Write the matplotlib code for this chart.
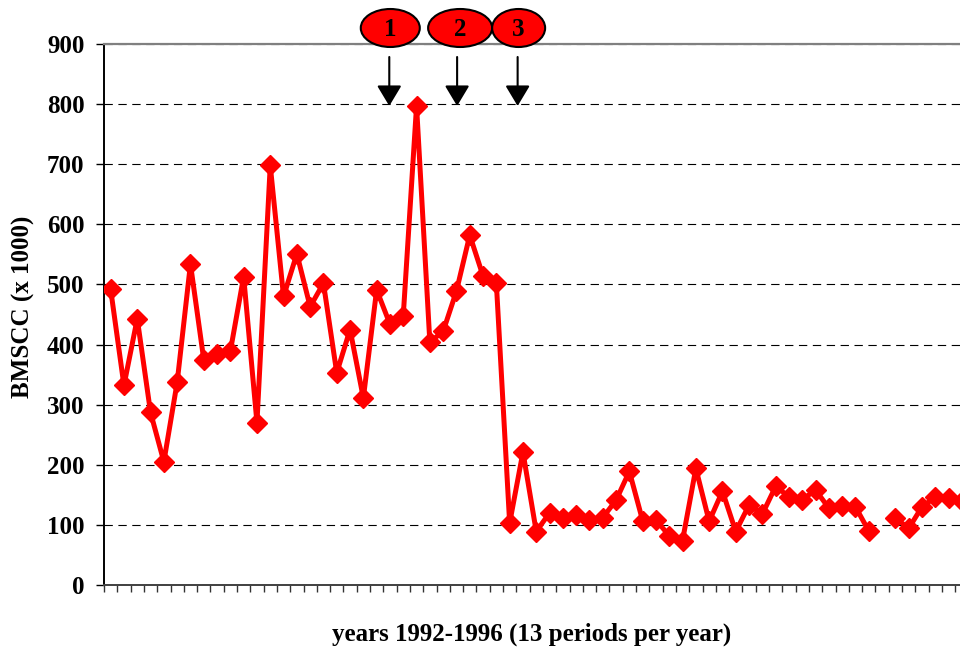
import numpy as np
import matplotlib
matplotlib.use("Agg")
import matplotlib.pyplot as plt
from matplotlib.patches import Ellipse
from matplotlib.transforms import blended_transform_factory

# ---- data ----
bmscc = [492, 332, 443, 287, 205, 337, 534, 375, 384, 389, 513, 270, 698,
         480, 551, 463, 502, 353, 425, 311, 491, 434, 448, 797, 404, 422,
         489, 582, 514, 502, 103, 221, 89, 120, 111, 116, 108, 112, 141,
         189, 107, 108, 82, 74, 194, 106, 156, 89, 133, 118, 164, 147,
         142, 158, 128, 131, 130, 90, np.nan, 112, 94, 130, 146, 145, 140]
periods = list(range(len(bmscc)))
event_labels = ["1", "2", "3"]
event_periods = [20.95, 26.05, 30.6]
yticks = [0, 100, 200, 300, 400, 500, 600, 700, 800, 900]
ylabel = "BMSCC (x 1000)"
xlabel = "years 1992-1996 (13 periods per year)"

W, H = 960, 647
FONT = "Liberation Serif"
fig = plt.figure(figsize=(W / 100, H / 100), dpi=100)
ax = fig.add_axes([104 / W, 62 / H, 864.5 / W, 541 / H])

ax.plot(periods, bmscc, color="#ff0000", lw=3.6, marker="D", ms=10,
        mec="#ff0000", mfc="#ff0000", zorder=3)

ax.set_xlim(-0.5, len(bmscc) - 0.5)
ax.set_ylim(0, 900)
ax.set_yticks(yticks)
ax.set_yticklabels([str(v) for v in yticks], fontfamily=FONT,
                   fontweight="bold", fontsize=18)
ax.set_xticks(np.arange(-0.5, len(bmscc), 1.0))
ax.set_xticklabels([])
ax.tick_params(axis="y", direction="out", length=6, width=1, pad=8,
               color="black")
ax.tick_params(axis="x", direction="out", length=5, width=1, color="#333333")
ax.yaxis.grid(True, color="black", lw=0.8, ls=(0, (7.5, 5)))
ax.set_axisbelow(True)

ax.spines["top"].set_color("#808080")
ax.spines["top"].set_linewidth(1.6)
ax.spines["right"].set_visible(False)
ax.spines["left"].set_color("black")
ax.spines["left"].set_linewidth(1.4)
ax.spines["bottom"].set_color("#404040")
ax.spines["bottom"].set_linewidth(1.4)

fig.text(23 / W, 1 - 307 / H, ylabel, rotation=90, ha="center", va="center",
         fontfamily=FONT, fontweight="bold", fontsize=18)
fig.text(532 / W, 1 - 634 / H, xlabel, ha="center", va="center",
         fontfamily=FONT, fontweight="bold", fontsize=18)

# event markers: ellipses with numbers and arrows
trans = blended_transform_factory(ax.transData, fig.transFigure)
px = 864.5 / len(bmscc)  # pixels per period
ell_w = [59, 64, 53]
ell_dx = [1, 3, 1]
for lab, xp, w, dx in zip(event_labels, event_periods, ell_w, ell_dx):
    xc = xp + dx / px
    e = Ellipse((xc, 1 - 28 / H), width=w / px, height=38 / H,
                transform=trans, facecolor="#ff0000", edgecolor="black",
                lw=1.5, clip_on=False, zorder=5)
    fig.add_artist(e)
    t = fig.text(0, 0, lab, transform=trans, fontfamily=FONT,
                 fontweight="bold", fontsize=18, ha="center", va="center",
                 zorder=6)
    t.set_position((xc, 1 - 30 / H))
    ax.annotate("", xy=(xp, 1 - 106 / H), xytext=(xp, 1 - 57 / H),
                xycoords=trans, textcoords=trans,
                arrowprops=dict(arrowstyle="-|>,head_length=0.45,head_width=0.27",
                                mutation_scale=28, lw=1.5, color="black",
                                shrinkA=0, shrinkB=0),
                annotation_clip=False, zorder=4)

fig.savefig("out.png", dpi=100)
